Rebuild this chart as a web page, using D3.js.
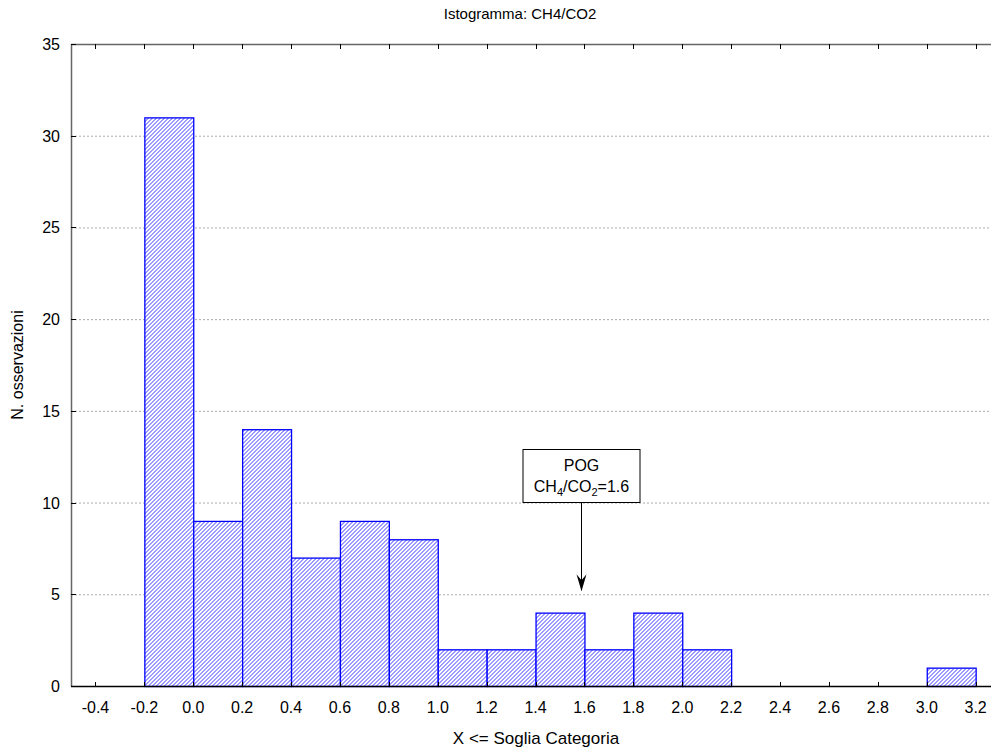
<!DOCTYPE html>
<html>
<head>
<meta charset="utf-8">
<script src="https://cdn.jsdelivr.net/npm/d3@7"></script>
<style>
  html, body { margin: 0; padding: 0; background: #fff; }
  svg { display: block; }
  text { font-family: "Liberation Sans", Arial, sans-serif; fill: #000; }
</style>
</head>
<body>
<svg id="chart" width="991" height="747"></svg>
<script>
// ---- data ----
const binStarts = [-0.2, 0.0, 0.2, 0.4, 0.6, 0.8, 1.0, 1.2, 1.4, 1.6, 1.8, 2.0, 2.2, 2.4, 2.6, 2.8, 3.0];
const counts    = [31, 9, 14, 7, 9, 8, 2, 2, 4, 2, 4, 2, 0, 0, 0, 0, 1];
const binWidth = 0.2;
const xTicks = [-0.4, -0.2, 0.0, 0.2, 0.4, 0.6, 0.8, 1.0, 1.2, 1.4, 1.6, 1.8, 2.0, 2.2, 2.4, 2.6, 2.8, 3.0, 3.2];
const yTicks = [0, 5, 10, 15, 20, 25, 30, 35];
const titleText = "Istogramma: CH4/CO2";
const xLabel = "X <= Soglia Categoria";
const yLabel = "N. osservazioni";
const annotX = 1.6;
const annotY = 5;

// ---- layout ----
const svg = d3.select("#chart");
const L = 71, T = 44, B = 686, R = 991;
const x = d3.scaleLinear().domain([-0.5, 3.3]).range([L, L + 3.8 * 244.5]);
const y = d3.scaleLinear().domain([0, 35]).range([B, T]);

const bars = binStarts.map((s, i) => ({ s, c: counts[i], i })).filter(d => d.c > 0);
const defs = svg.append("defs");

// grid
svg.append("g").selectAll("line").data(yTicks.filter(d => d > 0 && d < 35)).join("line")
  .attr("x1", L).attr("x2", R).attr("y1", d => y(d) + 0.5).attr("y2", d => y(d) + 0.5)
  .attr("stroke", "#aaa").attr("stroke-width", 1).attr("stroke-dasharray", "2,2");

// bars: white fill, clipped hatch lines, blue border
const gb = svg.append("g");
bars.forEach(d => {
  const x0 = x(d.s) + 0.5, x1 = x(d.s + binWidth) + 0.5;
  const y0 = y(d.c) + 0.5, y1 = y(0) + 0.5;
  defs.append("clipPath").attr("id", "clip" + d.i)
    .append("rect").attr("x", x0).attr("y", y0).attr("width", x1 - x0).attr("height", y1 - y0);
  gb.append("rect").attr("x", x0).attr("y", y0).attr("width", x1 - x0).attr("height", y1 - y0).attr("fill", "#fff");
  const step = 4;
  const h = y1 - y0;
  const lines = [];
  for (let k = Math.floor((x0 - h) / step) * step; k <= x1; k += step) lines.push(k);
  gb.append("g").attr("clip-path", `url(#clip${d.i})`).selectAll("line").data(lines).join("line")
    .attr("x1", k => k).attr("y1", y1).attr("x2", k => k + h).attr("y2", y0)
    .attr("stroke", "#3a3aff").attr("stroke-width", 1);
  gb.append("rect").attr("x", x0).attr("y", y0).attr("width", x1 - x0).attr("height", y1 - y0)
    .attr("fill", "none").attr("stroke", "#0000ff").attr("stroke-width", 1.3);
});

// axes lines
svg.append("line").attr("x1", L + 0.5).attr("x2", L + 0.5).attr("y1", T).attr("y2", B + 0.5)
  .attr("stroke", "#666").attr("stroke-width", 1.5);
svg.append("line").attr("x1", L).attr("x2", R).attr("y1", T + 0.5).attr("y2", T + 0.5)
  .attr("stroke", "#666").attr("stroke-width", 1.5);
svg.append("line").attr("x1", L).attr("x2", R).attr("y1", B + 0.5).attr("y2", B + 0.5)
  .attr("stroke", "#000").attr("stroke-width", 1.5);

// x ticks (bottom, inward) and labels
const fmt = d => d3.format(".1f")(d).replace("\u2212", "-");
const gx = svg.append("g");
gx.selectAll("line.b").data(xTicks).join("line").attr("class", "b")
  .attr("x1", d => Math.round(x(d)) + 0.5).attr("x2", d => Math.round(x(d)) + 0.5)
  .attr("y1", B).attr("y2", B - 4).attr("stroke", "#000");
gx.selectAll("line.t").data(xTicks).join("line").attr("class", "t")
  .attr("x1", d => Math.round(x(d)) + 0.5).attr("x2", d => Math.round(x(d)) + 0.5)
  .attr("y1", T).attr("y2", T + 5).attr("stroke", "#000");
gx.selectAll("text").data(xTicks).join("text")
  .attr("x", d => x(d)).attr("y", 713).attr("text-anchor", "middle")
  .attr("font-size", 16).text(fmt);

// y ticks and labels
const gy = svg.append("g");
gy.selectAll("line").data(yTicks).join("line")
  .attr("x1", L).attr("x2", L + 5).attr("y1", d => Math.round(y(d)) + 0.5).attr("y2", d => Math.round(y(d)) + 0.5)
  .attr("stroke", "#000");
gy.selectAll("text").data(yTicks).join("text")
  .attr("x", 60).attr("y", d => y(d) + 6).attr("text-anchor", "end")
  .attr("font-size", 16).text(d => d);

// titles
svg.append("text").attr("x", 520).attr("y", 19).attr("text-anchor", "middle")
  .attr("font-size", 15).text(titleText);
svg.append("text").attr("x", 536).attr("y", 744).attr("text-anchor", "middle")
  .attr("font-size", 17).text(xLabel);
svg.append("text").attr("transform", "translate(23,365) rotate(-90)").attr("text-anchor", "middle")
  .attr("font-size", 16).text(yLabel);

// annotation
const ax = Math.round(x(annotX)) - 2.5;
const boxW = 117, boxH = 53, boxTop = 449;
svg.append("rect").attr("x", ax - boxW / 2).attr("y", boxTop + 0.5).attr("width", boxW).attr("height", boxH)
  .attr("fill", "#fff").attr("stroke", "#000").attr("stroke-width", 1);
svg.append("text").attr("x", ax).attr("y", boxTop + 22).attr("text-anchor", "middle").attr("font-size", 16).text("POG");
const t2 = svg.append("text").attr("x", ax).attr("y", boxTop + 43).attr("text-anchor", "middle").attr("font-size", 16);
t2.append("tspan").text("CH");
t2.append("tspan").attr("font-size", 11).attr("dy", 4).text("4");
t2.append("tspan").attr("dy", -4).text("/CO");
t2.append("tspan").attr("font-size", 11).attr("dy", 4).text("2");
t2.append("tspan").attr("dy", -4).text("=1.6");
const tipY = y(annotY);
const arrowTop = boxTop + boxH + 0.5;
svg.append("line").attr("x1", ax).attr("x2", ax).attr("y1", arrowTop).attr("y2", tipY - 4)
  .attr("stroke", "#000").attr("stroke-width", 1);
svg.append("path")
  .attr("d", `M${ax},${tipY - 3} L${ax - 5},${tipY - 20} L${ax},${tipY - 14} L${ax + 5},${tipY - 20} Z`)
  .attr("fill", "#000");
</script>
</body>
</html>
